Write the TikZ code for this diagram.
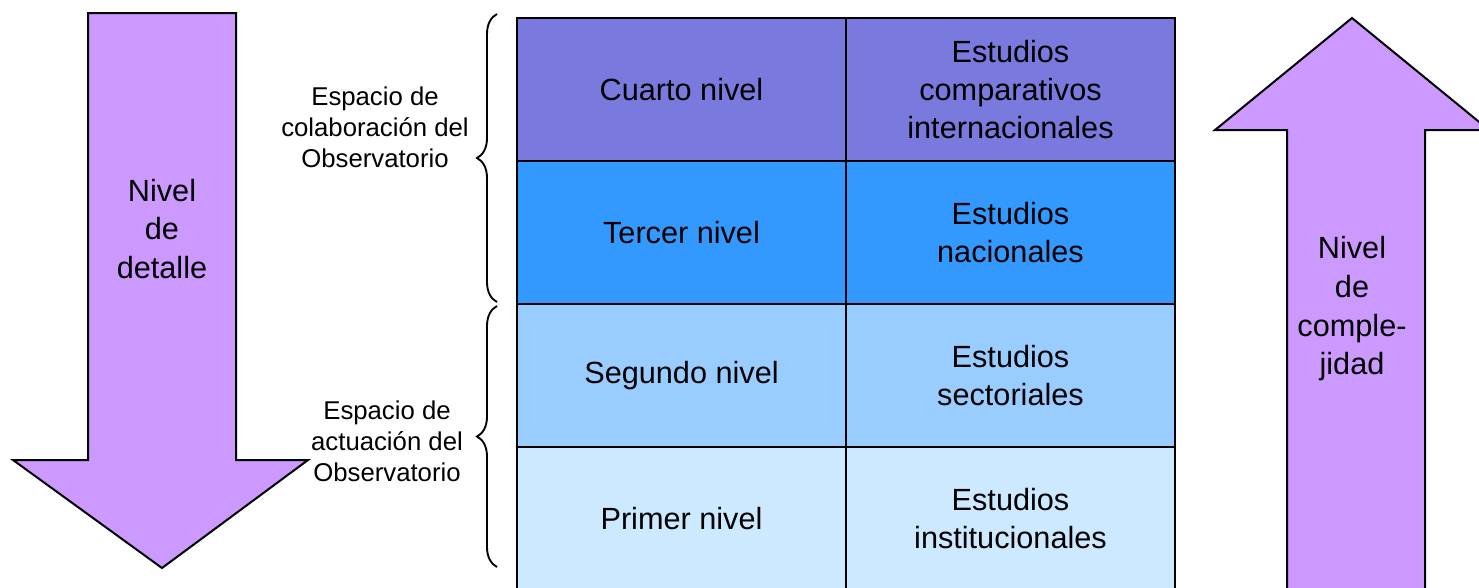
\documentclass[tikz,border=0pt]{standalone}
\usepackage{fontspec}
\setmainfont{Liberation Sans}
\usetikzlibrary{decorations.pathreplacing}

\definecolor{arrowlila}{RGB}{204,153,255}
\definecolor{nivelcuatro}{RGB}{122,122,222}
\definecolor{niveltres}{RGB}{51,153,255}
\definecolor{niveldos}{RGB}{153,204,255}
\definecolor{neveluno}{RGB}{204,233,255}

\tikzset{
  celda/.style={draw=black, line width=1.5pt, minimum width=246.75pt, minimum height=107.25pt, inner sep=0pt, align=center, font=\fontsize{23}{28.5}\selectfont},
  flecha/.style={draw=black, fill=arrowlila, line width=1.5pt, line join=miter},
  flechatexto/.style={align=center, inner sep=0.75pt, font=\fontsize{23}{29}\selectfont},
  llave/.style={draw=black, line width=1.4pt, decorate, decoration={brace, amplitude=15pt}},
  espacio/.style={align=center, inner sep=0.75pt, font=\fontsize{19.3}{23.2}\selectfont}
}

\begin{document}
\begin{tikzpicture}[x=0.75pt,y=0.75pt,yscale=-1,xscale=1]
\useasboundingbox (0,0) rectangle (1479,587);

%Down Arrow
\draw [flecha] (88,13) -- (236,13) -- (236,460) -- (308,460) -- (162,568) -- (13,460) -- (88,460) -- cycle ;
%Up Arrow
\draw [flecha] (1287,600) -- (1287,130) -- (1215,130) -- (1352,18) -- (1489,130) -- (1425,130) -- (1425,600) ;

% Text Node
\node [flechatexto] (detalle) at (162,229) {Nivel\\de\\detalle};
% Text Node
\node [flechatexto] (complejidad) at (1352,309) {Nivel\\de\\comple-\\jidad};

%Table rows
\node [celda, fill=nivelcuatro] (cuarto) at (681.5,89.5) {Cuarto nivel};
\node [celda, fill=nivelcuatro] (comparativos) at (1010.5,89.5) {Estudios\\comparativos\\internacionales};
\node [celda, fill=niveltres] (tercer) at (681.5,232.5) {Tercer nivel};
\node [celda, fill=niveltres] (nacionales) at (1010.5,232.5) {Estudios\\nacionales};
\node [celda, fill=niveldos] (segundo) at (681.5,375.5) {Segundo nivel};
\node [celda, fill=niveldos] (sectoriales) at (1010.5,375.5) {Estudios\\sectoriales};
\node [celda, fill=neveluno] (primer) at (681.5,518.5) {Primer nivel};
\node [celda, fill=neveluno] (institucionales) at (1010.5,518.5) {Estudios\\institucionales};

%Braces
\draw [llave] (497,302) -- (497,14) ;
\draw [llave] (497,567) -- (497,306) ;

% Text Node
\node [espacio] (colaboracion) at (375,127) {Espacio de\\colaboración del\\Observatorio};
% Text Node
\node [espacio] (actuacion) at (387,441) {Espacio de\\actuación del\\Observatorio};

\end{tikzpicture}
\end{document}
